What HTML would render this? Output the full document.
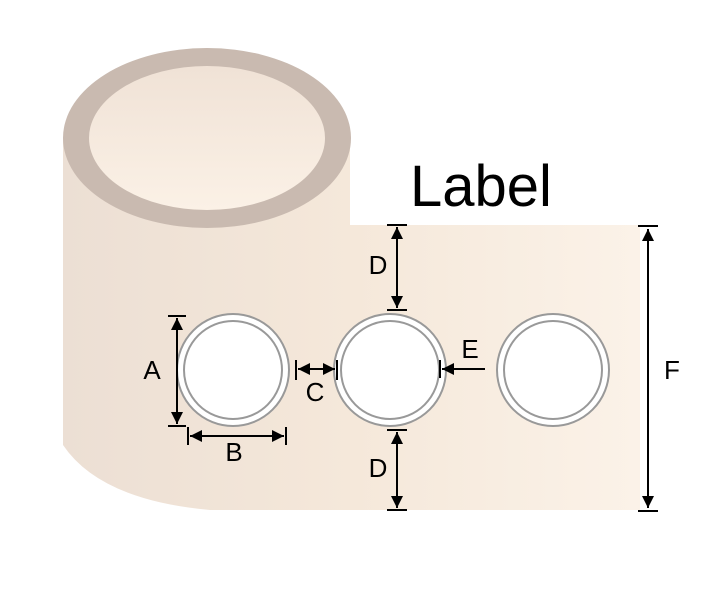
<!DOCTYPE html>
<html><head><style>body{margin:0;background:#fff}svg{display:block}</style></head><body>
<svg width="727" height="593" viewBox="0 0 727 593" xmlns="http://www.w3.org/2000/svg" font-family="Liberation Sans, sans-serif">
<defs>
<linearGradient id="g" x1="0" x2="1" y1="0" y2="0">
<stop offset="0" stop-color="#ecdfd4"/><stop offset="0.5" stop-color="#f5e8da"/><stop offset="1" stop-color="#fbf2e8"/></linearGradient>
<linearGradient id="t" x1="0" x2="0" y1="0" y2="1">
<stop offset="0" stop-color="#f0e2d6"/><stop offset="1" stop-color="#fbf1e6"/></linearGradient>
<marker id="a" viewBox="0 0 10 10" refX="10" refY="5" markerWidth="6" markerHeight="6" orient="auto-start-reverse"><path d="M0,0L10,5L0,10z" fill="#000"/></marker>
</defs>
<path d="M63,137 L63,445 Q100,500 210,510 L640,510 L640,225 L350,225 L350,137 Z" fill="url(#g)"/>
<ellipse cx="207" cy="138" rx="144" ry="90" fill="#c9bab0"/>
<ellipse cx="207" cy="138" rx="118" ry="72" fill="url(#t)"/>
<text x="410" y="206" font-size="58">Label</text>
<g fill="#fff" stroke="#999" stroke-width="2">
<circle cx="233" cy="370" r="56"/><circle cx="233" cy="370" r="49"/>
<circle cx="390" cy="370" r="56"/><circle cx="390" cy="370" r="49"/>
<circle cx="553" cy="370" r="56"/><circle cx="553" cy="370" r="49"/>
</g>
<g stroke="#000" stroke-width="2" fill="none">
<line x1="177" y1="318" x2="177" y2="424" marker-start="url(#a)" marker-end="url(#a)"/>
<line x1="168" y1="316" x2="186" y2="316"/><line x1="168" y1="426" x2="186" y2="426"/>
<line x1="190" y1="436" x2="284" y2="436" marker-start="url(#a)" marker-end="url(#a)"/>
<line x1="188" y1="427" x2="188" y2="445"/><line x1="286" y1="427" x2="286" y2="445"/>
<line x1="298" y1="369" x2="335" y2="369" marker-start="url(#a)" marker-end="url(#a)"/>
<line x1="296" y1="360" x2="296" y2="380"/><line x1="337" y1="360" x2="337" y2="380"/>
<line x1="397" y1="227" x2="397" y2="308" marker-start="url(#a)" marker-end="url(#a)"/>
<line x1="387" y1="225" x2="407" y2="225"/><line x1="387" y1="310" x2="407" y2="310"/>
<line x1="397" y1="432" x2="397" y2="508" marker-start="url(#a)" marker-end="url(#a)"/>
<line x1="387" y1="430" x2="407" y2="430"/><line x1="387" y1="510" x2="407" y2="510"/>
<line x1="485" y1="369" x2="442" y2="369" marker-end="url(#a)"/>
<line x1="440" y1="360" x2="440" y2="378"/>
<line x1="648" y1="229" x2="648" y2="508" marker-start="url(#a)" marker-end="url(#a)"/>
<line x1="638" y1="226" x2="658" y2="226"/><line x1="638" y1="511" x2="658" y2="511"/>
</g>
<g font-size="26" text-anchor="middle">
<text x="152" y="379">A</text><text x="234" y="461">B</text><text x="315" y="401">C</text>
<text x="378" y="274">D</text><text x="378" y="477">D</text><text x="470" y="358">E</text><text x="672" y="379">F</text>
</g>
</svg>
</body></html>
